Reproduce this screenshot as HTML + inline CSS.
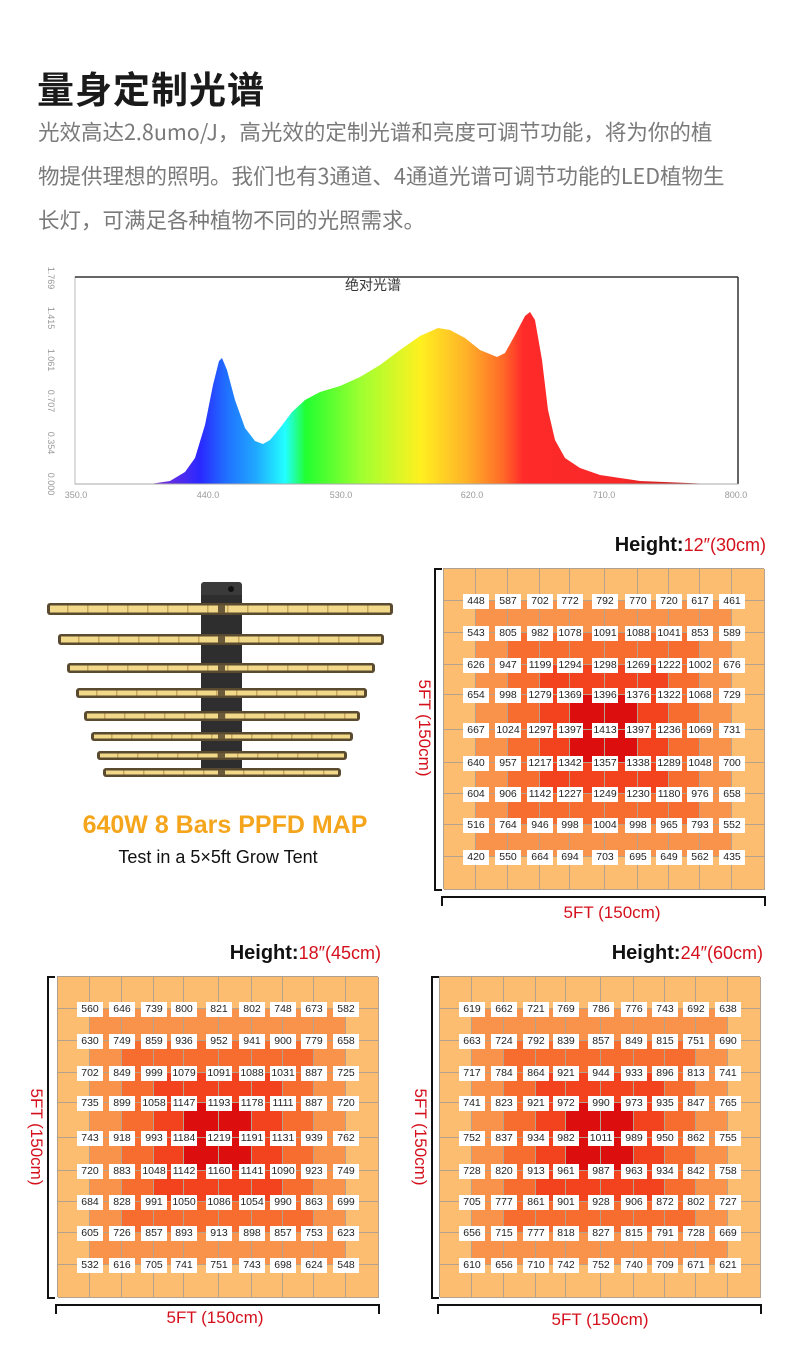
<!DOCTYPE html>
<html><head><meta charset="utf-8">
<style>
*{margin:0;padding:0;box-sizing:border-box}
body{width:789px;height:1350px;background:#fff;position:relative;overflow:hidden;font-family:"Liberation Sans","Noto Sans CJK SC",sans-serif}
.abs{position:absolute}
.title{left:37px;top:60px;font-size:37px;font-weight:bold;color:#1a1a1a;letter-spacing:1px;font-family:"Noto Sans CJK SC","WenQuanYi Zen Hei",sans-serif}
.para{left:38px;top:110px;font-size:21.5px;line-height:44px;color:#7a7a7a;font-family:"Noto Sans CJK SC","WenQuanYi Zen Hei",sans-serif;white-space:nowrap}
.map{position:absolute;width:321px;height:321px;background:#fdbd70;border:1px solid #b0a090}
.cell{position:absolute;border-right:1px solid #b5a28e;border-bottom:1px solid #b5a28e}
.lbl{position:absolute;width:26px;height:15px;margin-left:-13px;margin-top:-7px;background:#fff;font-size:10.5px;line-height:15px;text-align:center;color:#222;font-family:"Liberation Sans",sans-serif}
.ht{position:absolute;font-size:20px;font-weight:bold;color:#111;white-space:nowrap;text-align:right}
.ht span{font-weight:normal;color:#d4101c;font-size:18px}
.red{color:#d4101c;font-size:17px;white-space:nowrap;position:absolute}
.vbr{position:absolute;width:8px;border:2px solid #111;border-right:none}
.hbr{position:absolute;height:10px;border:2px solid #111;border-bottom:none}
</style></head><body>
<div class="abs title">量身定制光谱</div>
<div class="abs para">光效高达2.8umo/J，高光效的定制光谱和亮度可调节功能，将为你的植<br>物提供理想的照明。我们也有3通道、4通道光谱可调节功能的LED植物生<br>长灯，可满足各种植物不同的光照需求。</div>

<svg class="abs" style="left:0;top:255px" width="789" height="250" viewBox="0 255 789 250">
<defs><linearGradient id="sp" gradientUnits="userSpaceOnUse" x1="150" y1="0" x2="738" y2="0">
<stop offset="0" stop-color="#8a30d0"/>
<stop offset="0.085" stop-color="#2a28ff"/>
<stop offset="0.13" stop-color="#2070ff"/>
<stop offset="0.18" stop-color="#20a8ff"/>
<stop offset="0.23" stop-color="#22ffff"/>
<stop offset="0.265" stop-color="#22ff30"/>
<stop offset="0.36" stop-color="#a0ff30"/>
<stop offset="0.46" stop-color="#fff020"/>
<stop offset="0.54" stop-color="#ffb028"/>
<stop offset="0.6" stop-color="#ff6a28"/>
<stop offset="0.635" stop-color="#ff2a2a"/>
<stop offset="0.8" stop-color="#f82828"/>
<stop offset="1" stop-color="#a01010"/>
</linearGradient></defs>
<rect x="75" y="277" width="663" height="207" fill="#fff" stroke="#bbb" stroke-width="1"/>
<line x1="75" y1="277" x2="738" y2="277" stroke="#333" stroke-width="1.5"/>
<line x1="738" y1="277" x2="738" y2="484" stroke="#333" stroke-width="1.5"/>
<path fill="url(#sp)" d="M150,484 L170,481 L185,472 L195,458 L205,425 L213,385 L219,361 L222,358 L227,370 L235,400 L245,428 L255,441 L263,444 L270,440 L280,428 L292,412 L305,400 L320,392 L340,386 L360,377 L380,365 L400,350 L420,336 L438,328 L450,330 L465,338 L480,350 L497,357 L505,353 L515,335 L525,316 L530,312 L535,320 L542,360 L548,410 L555,440 L565,458 L580,468 L600,475 L640,481 L700,483.5 L738,484 Z"/>
<line x1="75" y1="484" x2="738" y2="484" stroke="#aaa" stroke-width="1"/>
<text x="345" y="290" font-size="14" font-family="Noto Sans CJK SC,sans-serif" fill="#333">绝对光谱</text>
<g font-size="9" fill="#999" font-family="Liberation Sans,sans-serif" text-anchor="middle">
<text x="76" y="498">350.0</text><text x="208" y="498">440.0</text><text x="341" y="498">530.0</text><text x="472" y="498">620.0</text><text x="604" y="498">710.0</text><text x="736" y="498">800.0</text>
<g transform="translate(48,0)">
<text transform="translate(0,484) rotate(90)">0.000</text>
<text transform="translate(0,443) rotate(90)">0.354</text>
<text transform="translate(0,401) rotate(90)">0.707</text>
<text transform="translate(0,360) rotate(90)">1.061</text>
<text transform="translate(0,318) rotate(90)">1.415</text>
<text transform="translate(0,278) rotate(90)">1.769</text>
</g></g>
</svg>

<svg class="abs" style="left:0;top:570px" width="420" height="220" viewBox="0 570 420 220">
<rect x="201" y="582" width="41" height="20" rx="3" fill="#3a3a3a"/>
<rect x="201" y="595" width="41" height="180" fill="#2e2e2e"/>
<circle cx="231" cy="589" r="3" fill="#111"/>
<g id="bars"></g>
</svg>

<div class="abs" style="left:0;width:450px;top:811px;text-align:center;font-size:25px;font-weight:bold;color:#f5a51c">640W 8 Bars PPFD MAP</div>
<div class="abs" style="left:0;width:436px;top:847px;text-align:center;font-size:18px;color:#111">Test in a 5×5ft Grow Tent</div>

<div class="ht" style="right:23px;top:534px">Height:<span>12″(30cm)</span></div>
<div class="ht" style="right:408px;top:942px">Height:<span>18″(45cm)</span></div>
<div class="ht" style="right:26px;top:942px">Height:<span>24″(60cm)</span></div>

<div id="maps"></div>

<script>
var bars=[[47,603,393,12],[58,634,384,11],[67,663,375,10],[76,688,367,10],[84,711,360,10],[91,732,353,9],[97,751,347,9],[103,768,341,9]];
var g=document.getElementById('bars'),s='';
bars.forEach(function(b){var x=b[0],y=b[1],w=b[2]-b[0],h=b[3];
s+='<rect x="'+x+'" y="'+y+'" width="'+w+'" height="'+h+'" rx="3" fill="#5a4a30"/>';
s+='<rect x="'+(x+3)+'" y="'+(y+2.5)+'" width="'+(w-6)+'" height="'+(h-5)+'" fill="#f2d98a"/>';
for(var k=x+20;k<x+w-10;k+=20){s+='<rect x="'+k+'" y="'+(y+2.5)+'" width="1.5" height="'+(h-5)+'" fill="#c9a860"/>';}
s+='<rect x="218" y="'+(y+2)+'" width="7" height="'+(h-4)+'" fill="#6b5a3a"/>';});
g.innerHTML=s;

var maps=[
{x:443,y:568,d:[[448,587,702,772,792,770,720,617,461],[543,805,982,1078,1091,1088,1041,853,589],[626,947,1199,1294,1298,1269,1222,1002,676],[654,998,1279,1369,1396,1376,1322,1068,729],[667,1024,1297,1397,1413,1397,1236,1069,731],[640,957,1217,1342,1357,1338,1289,1048,700],[604,906,1142,1227,1249,1230,1180,976,658],[516,764,946,998,1004,998,965,793,552],[420,550,664,694,703,695,649,562,435]],br:{vx:434,hy:896,lx:424,ly:728,tx:612,ty:903}},
{x:57,y:976,d:[[560,646,739,800,821,802,748,673,582],[630,749,859,936,952,941,900,779,658],[702,849,999,1079,1091,1088,1031,887,725],[735,899,1058,1147,1193,1178,1111,887,720],[743,918,993,1184,1219,1191,1131,939,762],[720,883,1048,1142,1160,1141,1090,923,749],[684,828,991,1050,1086,1054,990,863,699],[605,726,857,893,913,898,857,753,623],[532,616,705,741,751,743,698,624,548]],br:{vx:47,hy:1304,lx:36,ly:1137,tx:215,ty:1308}},
{x:439,y:976,d:[[619,662,721,769,786,776,743,692,638],[663,724,792,839,857,849,815,751,690],[717,784,864,921,944,933,896,813,741],[741,823,921,972,990,973,935,847,765],[752,837,934,982,1011,989,950,862,755],[728,820,913,961,987,963,934,842,758],[705,777,861,901,928,906,872,802,727],[656,715,777,818,827,815,791,728,669],[610,656,710,742,752,740,709,671,621]],br:{vx:431,hy:1304,lx:420,ly:1137,tx:600,ty:1310}}];
var off=[0,32,64,96,126,161,194,225,256,288,321];
var cols=['#fdbd70','#f9924a','#f76d30','#f2431e','#dc0e0e'];
var out='';
maps.forEach(function(m){
 out+='<div class="map" style="left:'+m.x+'px;top:'+m.y+'px">';
 for(var i=0;i<10;i++)for(var j=0;j<10;j++){
  var r=Math.min(i,j,9-i,9-j);
  out+='<div class="cell" style="left:'+off[j]+'px;top:'+off[i]+'px;width:'+(off[j+1]-off[j])+'px;height:'+(off[i+1]-off[i])+'px;background:'+cols[r]+'"></div>';
 }
 for(var i=0;i<9;i++)for(var j=0;j<9;j++){
  out+='<div class="lbl" style="left:'+off[j+1]+'px;top:'+off[i+1]+'px">'+m.d[i][j]+'</div>';
 }
 out+='</div>';
 var b=m.br;
 out+='<div class="vbr" style="left:'+b.vx+'px;top:'+m.y+'px;height:323px"></div>';
 out+='<div class="hbr" style="left:'+(m.x-2)+'px;top:'+b.hy+'px;width:325px"></div>';
 out+='<div class="red" style="left:'+(b.lx-60)+'px;top:'+(b.ly-10)+'px;width:120px;text-align:center;transform:rotate(90deg)">5FT (150cm)</div>';
 out+='<div class="red" style="left:'+(b.tx-60)+'px;top:'+b.ty+'px;width:120px;text-align:center">5FT (150cm)</div>';
});
document.getElementById('maps').innerHTML=out;
</script>
</body></html>
